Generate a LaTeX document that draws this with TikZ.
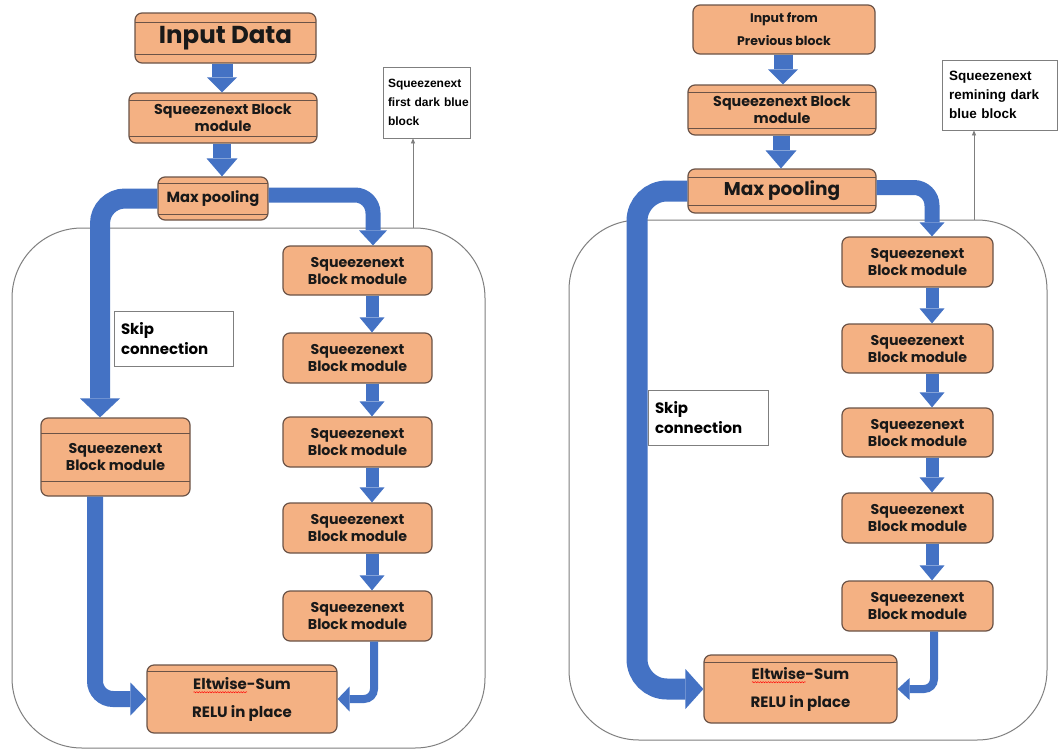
\documentclass[tikz,border=0pt]{standalone}
\usepackage{fontspec}
\usetikzlibrary{arrows.meta,decorations.pathmorphing,calc}
\newfontfamily\fut{Poppins}
\newfontfamily\ari{Liberation Sans}
\definecolor{orf}{HTML}{F4B183}
\definecolor{bord}{HTML}{6B5347}
\definecolor{bl}{HTML}{4472C4}
\definecolor{cgrey}{HTML}{7F7F7F}
\newsavebox\wavebox
\newcommand\redwave[1]{\sbox\wavebox{#1}\makebox[0pt][l]{\usebox\wavebox}\makebox[\wd\wavebox][l]{\raisebox{-4pt}[0pt][0pt]{\tikz[x=1pt,y=1pt,sharp corners]\draw[red,line width=0.45pt,sharp corners,decorate,decoration={snake,amplitude=0.6pt,segment length=2.6pt}] (0,0) -- (\the\wd\wavebox,0);}}}
\tikzset{
  ob/.style={draw=bord, fill=orf, line width=1.2pt, rounded corners=7pt, inner sep=0pt, align=center, text=black!90},
  fs/.style 2 args={font=\fut\bfseries\fontsize{#1}{#2}\selectfont},
  lines/.style={path picture={\draw[bord,line width=0.8pt]
      ([yshift=-#1]path picture bounding box.north west) -- ([yshift=-#1]path picture bounding box.north east)
      ([yshift=#1]path picture bounding box.south west) -- ([yshift=#1]path picture bounding box.south east);}},
  topline/.style={path picture={\draw[bord,line width=0.8pt]
      ([yshift=-#1]path picture bounding box.north west) -- ([yshift=-#1]path picture bounding box.north east);}},
  barr/.style n args={3}{draw=bl, line width=#1, -{Triangle[length=#3, width=#2, line width=0pt]}},
  txtbox/.style={draw=cgrey, line width=0.8pt, fill=white, inner xsep=7pt, inner ysep=0pt, align=left},
  cont/.style={draw=cgrey, line width=1pt, rounded corners=70pt, inner sep=0pt},
  annarr/.style={draw=cgrey, line width=0.7pt, -{Triangle[length=5pt,width=4pt]}},
}
\begin{document}
\begin{tikzpicture}[x=1pt,y=-1pt]
\fill[white] (0,0) rectangle (1058,750);
\useasboundingbox (0,0) rectangle (1058,750);

% containers
\node[cont, minimum width=473pt, minimum height=520pt] (c1) at (248.5,488) {};
\node[cont, minimum width=478pt, minimum height=520pt] (c2) at (808,480) {};

% ---------------- left diagram ----------------
\node[ob, lines=9pt, minimum width=181pt, minimum height=50pt, fs={24.5}{30}] (in1) at (225.5,38) {Input Data};
\node[ob, lines=7pt, minimum width=188pt, minimum height=50pt, fs={14.3}{17}] (sq1) at (223,118) {Squeezenext Block\\module};
\node[ob, lines=6pt, minimum width=110pt, minimum height=43pt, fs={14.7}{17}] (mp1) at (213,198.5) {Max pooling};
\node[ob, lines=15pt, minimum width=149pt, minimum height=78pt, fs={14.2}{17}] (ls1) at (115.5,457) {Squeezenext\\Block module};
\node[ob, minimum width=149pt, minimum height=49pt, fs={14.2}{17}] (r1) at (357.5,270.5) {Squeezenext\\Block module};
\node[ob, minimum width=149pt, minimum height=50pt, fs={14.2}{17}] (r2) at (357.5,358) {Squeezenext\\Block module};
\node[ob, minimum width=149pt, minimum height=50pt, fs={14.2}{17}] (r3) at (357.5,442) {Squeezenext\\Block module};
\node[ob, minimum width=149pt, minimum height=50pt, fs={14.2}{17}] (r4) at (357.5,528) {Squeezenext\\Block module};
\node[ob, minimum width=149pt, minimum height=50pt, fs={14.2}{17}] (r5) at (357.5,616) {Squeezenext\\Block module};
\node[ob, topline=6pt, minimum width=190pt, minimum height=68pt, fs={15}{28}] (el1) at (242,699) {\redwave{Eltwise}-Sum\\RELU in place};
\node[txtbox, minimum width=119pt, minimum height=55pt, text width=105pt, font=\fut\bfseries\fontsize{15}{20}\selectfont] (sk1) at (173.5,338.5) {Skip\\connection};
\node[txtbox, inner xsep=5pt, minimum width=87pt, minimum height=71pt, text width=77pt, font=\ari\bfseries\fontsize{12}{19}\selectfont] (ann1) at (426.5,102.5) {Squeezenext\\\mbox{first dark blue}\\block};

\draw[barr={21pt}{30pt}{15pt}] (222,0 |- in1.south) -- (222,0 |- sq1.north);
\draw[barr={18pt}{31pt}{18pt}] (222,0 |- sq1.south) -- (222,0 |- mp1.north);
\draw[barr={20pt}{40pt}{19pt}, rounded corners=25pt] (mp1.west) -- (100,0 |- mp1.west) -- (100,0 |- ls1.north);
\coordinate (mp1e) at ([yshift=3.5pt]mp1.east);
\draw[barr={15pt}{28pt}{15pt}, rounded corners=18pt] (mp1e) -- (373,0 |- mp1e) -- (373,0 |- r1.north);
\foreach \a/\b in {r1/r2,r2/r3,r3/r4,r4/r5}
  \draw[barr={13pt}{25pt}{15pt}] (372,0 |- \a.south) -- (372,0 |- \b.north);
\draw[barr={8pt}{25pt}{12pt}, rounded corners=10pt] (374,0 |- r5.south) |- (el1.east);
\draw[barr={16pt}{33pt}{16pt}, rounded corners=18pt] (95,0 |- ls1.south) |- (el1.west);
\draw[annarr] (413,0 |- c1.north) -- (413,0 |- ann1.south);

% ---------------- right diagram ----------------
\node[ob, minimum width=182pt, minimum height=49pt, fs={12.5}{23}] (in2) at (784,29.5) {Input from\\Previous block};
\node[ob, lines=7pt, minimum width=188pt, minimum height=50pt, fs={14.3}{17}] (sq2) at (782,110) {Squeezenext Block\\module};
\node[ob, lines=8pt, minimum width=188pt, minimum height=44pt, fs={18.5}{22}] (mp2) at (782,191) {Max pooling};
\node[ob, minimum width=151pt, minimum height=50pt, fs={14.2}{17}] (R1) at (917.5,262) {Squeezenext\\Block module};
\node[ob, minimum width=151pt, minimum height=49pt, fs={14.2}{17}] (R2) at (917.5,348.5) {Squeezenext\\Block module};
\node[ob, minimum width=151pt, minimum height=49pt, fs={14.2}{17}] (R3) at (917.5,432.5) {Squeezenext\\Block module};
\node[ob, minimum width=151pt, minimum height=50pt, fs={14.2}{17}] (R4) at (917.5,518) {Squeezenext\\Block module};
\node[ob, minimum width=151pt, minimum height=50pt, fs={14.2}{17}] (R5) at (917.5,606) {Squeezenext\\Block module};
\node[ob, topline=7pt, minimum width=193pt, minimum height=68pt, fs={15}{28}] (el2) at (800.5,689) {\redwave{Eltwise}-Sum\\RELU in place};
\node[txtbox, minimum width=120pt, minimum height=55pt, text width=106pt, font=\fut\bfseries\fontsize{15}{20}\selectfont] (sk2) at (708,417.5) {Skip\\connection};
\node[txtbox, minimum width=115pt, minimum height=70pt, text width=101pt, font=\ari\bfseries\fontsize{13.5}{19}\selectfont] (ann2) at (999.5,95) {Squeezenext\\remining dark\\blue block};

\draw[barr={19pt}{30pt}{15pt}] (783,0 |- in2.south) -- (783,0 |- sq2.north);
\draw[barr={17pt}{31pt}{18pt}] (781,0 |- sq2.south) -- (781,0 |- mp2.north);
\draw[barr={21pt}{40pt}{18pt}, rounded corners=30pt] (mp2.west) -- (637,0 |- mp2.west) -- (637,0 |- el2.west) -- (el2.west);
\coordinate (mp2e) at ([yshift=3.5pt]mp2.east);
\draw[barr={15pt}{25pt}{14pt}, rounded corners=18pt] (mp2e) -- (932,0 |- mp2e) -- (932,0 |- R1.north);
\foreach \a/\b in {R1/R2,R2/R3,R3/R4,R4/R5}
  \draw[barr={13pt}{25pt}{15pt}] (932,0 |- \a.south) -- (932,0 |- \b.north);
\draw[barr={8pt}{22pt}{12pt}, rounded corners=10pt] (934,0 |- R5.south) |- (el2.east);
\draw[annarr] (974,0 |- c2.north) -- (974,0 |- ann2.south);
\end{tikzpicture}
\end{document}
